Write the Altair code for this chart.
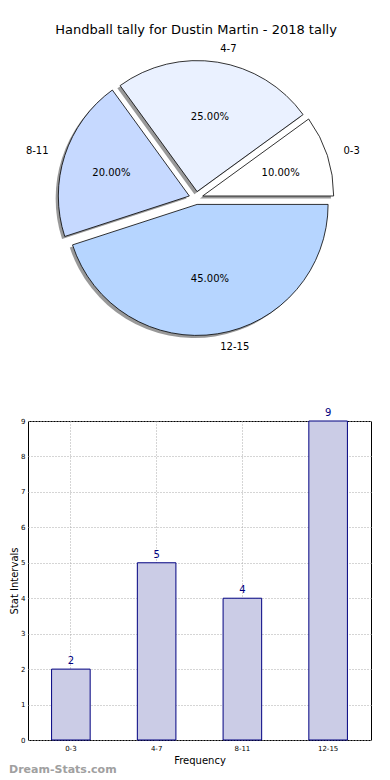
import altair as alt
import pandas as pd

# ---------------- data ----------------
categories = ["0-3", "4-7", "8-11", "12-15"]
counts = [2, 5, 4, 9]
slice_colors = ["#ffffff", "#eaf1ff", "#c6d9ff", "#b6d5ff"]

title_text = "Handball tally for Dustin Martin - 2018 tally"
x_title = "Frequency"
y_title = "Stat Intervals"
y_ticks = [0, 1, 2, 3, 4, 5, 6, 7, 8, 9]
watermark_text = ["Dream-Stats.com"]

df = pd.DataFrame({
    "cat": categories,
    "count": counts,
    "idx": list(range(len(categories))),
    "color": slice_colors,
})

FONT = "DejaVu Sans"

# ---------------- layout constants (pixels) ----------------
PLOT_W = 343
PIE_H = 393
BAR_H = 319
CX, CY = 168, 190          # pie centre inside the pie panel
R = 131                    # pie radius
EX, EY = 7, 6.5            # explode offset
SHX, SHY = -2.7, 2.6       # shadow offset
PX, PY = 82, 76            # percent label radius
LX, LY = 148, 144          # category label radius

pie_base = (
    alt.Chart(df)
    .transform_joinaggregate(total="sum(count)")
    .transform_window(cum="sum(count)", sort=[alt.SortField("idx")], frame=[None, 0])
    .transform_calculate(a0="2*PI*(datum.cum - datum.count)/datum.total")
    .transform_calculate(a1="2*PI*datum.cum/datum.total")
    .transform_calculate(am="(datum.a0 + datum.a1)/2")
    .transform_calculate(t_start="PI/2 - datum.a1")
    .transform_calculate(t_end="PI/2 - datum.a0")
    .transform_calculate(sx=f"{CX} + {EX}*cos(datum.am)")
    .transform_calculate(sy=f"{CY} - {EY}*sin(datum.am)")
    .transform_calculate(shx=f"datum.sx + ({SHX})")
    .transform_calculate(shy=f"datum.sy + ({SHY})")
    .transform_calculate(px=f"datum.sx + {PX}*cos(datum.am)")
    .transform_calculate(py=f"datum.sy - {PY}*sin(datum.am)")
    .transform_calculate(lx=f"datum.sx + {LX}*cos(datum.am)")
    .transform_calculate(ly=f"datum.sy - {LY}*sin(datum.am)")
    .transform_calculate(pct="format(100*datum.count/datum.total, '.2f') + '%'")
    .transform_calculate(side="cos(datum.am) >= 0 ? 'r' : 'l'")
)

shadow = pie_base.mark_arc(radius=R, fill="#333333", opacity=0.5).encode(
    x=alt.X("shx:Q", scale=None, axis=None),
    y=alt.Y("shy:Q", scale=None, axis=None),
    theta=alt.Theta("t_start:Q", scale=None, stack=None),
    theta2="t_end:Q",
)

slices = pie_base.mark_arc(radius=R, stroke="black", strokeWidth=0.8).encode(
    x=alt.X("sx:Q", scale=None, axis=None),
    y=alt.Y("sy:Q", scale=None, axis=None),
    theta=alt.Theta("t_start:Q", scale=None, stack=None),
    theta2="t_end:Q",
    fill=alt.Fill("color:N", scale=None, legend=None),
)

pct_text = pie_base.mark_text(fontSize=10, font=FONT, color="black").encode(
    x=alt.X("px:Q", scale=None, axis=None),
    y=alt.Y("py:Q", scale=None, axis=None),
    text="pct:N",
)

lab_right = pie_base.transform_filter("datum.side == 'r'").mark_text(
    fontSize=10, font=FONT, color="black", align="left", baseline="middle"
).encode(
    x=alt.X("lx:Q", scale=None, axis=None),
    y=alt.Y("ly:Q", scale=None, axis=None),
    text="cat:N",
)

lab_left = pie_base.transform_filter("datum.side == 'l'").mark_text(
    fontSize=10, font=FONT, color="black", align="right", baseline="middle"
).encode(
    x=alt.X("lx:Q", scale=None, axis=None),
    y=alt.Y("ly:Q", scale=None, axis=None),
    text="cat:N",
)

title_mark = alt.Chart(pd.DataFrame({"t": [title_text]})).mark_text(
    fontSize=13, font=FONT, color="black", align="center", baseline="middle"
).encode(x=alt.value(168), y=alt.value(22), text="t:N")

pie = alt.layer(shadow, slices, pct_text, lab_right, lab_left, title_mark).properties(
    width=PLOT_W, height=PIE_H
)

# ---------------- bar chart ----------------
x_enc = alt.X(
    "cat:N",
    sort=categories,
    scale=alt.Scale(paddingInner=0.55, paddingOuter=0.275),
    axis=alt.Axis(
        title=x_title, labelAngle=0, labelFontSize=7, labelPadding=4, ticks=False,
        domain=False, titleFontSize=10, titleFontWeight="normal", titlePadding=4,
        grid=True, bandPosition=0.5, gridDash=[1, 2], gridColor="#aaaaaa",
        labelColor="black", titleColor="black", labelFont=FONT, titleFont=FONT,
    ),
)
y_enc = alt.Y(
    "count:Q",
    scale=alt.Scale(domain=[0, 9], nice=False),
    axis=alt.Axis(
        title=y_title, values=y_ticks, tickCount=10, labelFontSize=7, labelPadding=3,
        labelOverlap=False, labelFlush=False,
        ticks=False, domain=False, titleFontSize=10, titleFontWeight="normal",
        titleX=-9, grid=True, gridDash=[1, 2], gridColor="#aaaaaa",
        labelColor="black", titleColor="black", labelFont=FONT, titleFont=FONT,
    ),
)

bar_base = alt.Chart(df).encode(x=x_enc, y=y_enc)

bars = bar_base.mark_bar(fill="#cbcce6", stroke="#000080", strokeWidth=1)
bar_text = bar_base.mark_text(
    dy=-3, baseline="bottom", color="#000080", fontSize=10, font=FONT
).encode(text="count:Q")

wm = alt.Chart(pd.DataFrame({"t": watermark_text})).mark_text(
    align="left", baseline="middle", fontSize=11, fontWeight="bold",
    color="#a0a0a0", font=FONT
).encode(x=alt.value(-19), y=alt.value(349), text="t:N")

bar_chart = alt.layer(bars, bar_text, wm).properties(
    width=PLOT_W, height=BAR_H,
    view=alt.ViewBackground(stroke="black", strokeWidth=1),
)

chart = alt.vconcat(pie, bar_chart, spacing=20, bounds="flush").properties(
    padding=0
).configure(font=FONT).configure_view(stroke=None)

chart.save("out.html", embed_options={"renderer": "svg", "actions": False})
